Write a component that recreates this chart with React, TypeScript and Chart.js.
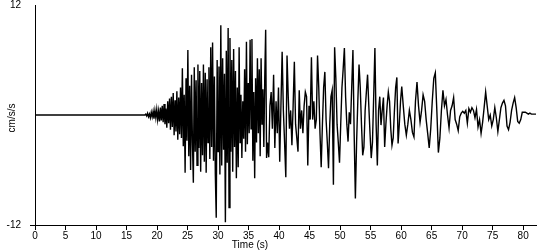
import React, { useEffect, useRef } from "react";
import { Chart, registerables } from "chart.js";

Chart.register(...registerables);

// ---- data (acceleration in cm/s/s, read from the record) ----
const preEventTime = [0, 17.85];
const preEventAccel = [0, 0];

const burstStart = 18.0;
const burstStep = 0.15;
const burstAccel = [
  0, 0.1, -0.1, 0.2, -0.2, 0.1, -0.3, 0.3, -0.2, 0.4,
  -0.4, 0.5, -0.3, 0.6, -0.5, 0.4, -0.7, 0.8, -0.6, 1.0,
  -0.8, 1.2, -1.0, 0.7, -1.4, 1.5, -0.9, 1.8, -1.6, 2.0,
  -1.3, 2.4, -2.2, 1.6, -1.8, 2.6, -2.7, 1.9, -2.1, 3.0,
  -2.5, 5.1, -3.4, 2.2, -6.3, 4.0, -2.8, 7.1, -4.5, 3.2,
  -6.0, 4.4, -3.0, -7.4, 5.2, -4.0, 3.8, -5.5, 5.5, -3.6,
  4.8, -6.2, 3.5, -4.4, 5.5, -5.1, 4.6, -6.3, 3.9, -3.0,
  5.2, -4.8, 7.4, -3.5, 7.9, -5.0, 4.2, -6.5, -11.2, 6.0,
  -4.0, 5.3, -6.5, 9.8, -5.5, 6.2, -3.8, 4.5, -11.7, 7.0,
  -5.2, 9.5, -10.1, 8.4, -4.0, 6.0, -6.2, 7.2, -3.5, 4.8,
  -6.9, 3.0, -5.7, 7.4, -3.0, 2.2, -4.7, 1.5, -2.6, 5.0,
  -4.0, 8.0, -3.2, 3.5, -2.0, 8.2, -1.5, 8.3, -5.0, 2.5,
  -6.9, 4.0, -3.0, 6.2, -2.0, 5.0, -4.5, 6.2, -1.0, 2.8,
  -3.5, 4.0, 9.3, -4.7,
];

const strongStart = 38.1;
const strongStep = 0.2;
const strongAccel = [
  -3.0, -4.6, 1.0, 2.5, -1.5, 4.4, -3.6, 1.5, -2.0, 3.0,
  -5.1, 1.0, 6.9, 0.5, -3.0, -6.8, 6.5, 2.0, -1.5, 0.5,
  -3.3, 1.0, 5.8, -1.0, -2.5, -4.0, 2.7, -1.5, 0.5, -2.0,
  1.0, 2.5, 2.0, -5.5, 1.0, -0.5, 6.3, -0.5, 1.5, -1.5,
  -0.5, 6.5, 3.0, -2.0, -5.7, -1.0, 3.0, 4.7, -0.5, -3.0,
  -5.8, -1.0, 2.0, 2.7, -7.6, 7.4, 4.0, -1.0, -3.0, -5.2,
  -1.0, 3.0, 5.0, 7.3, 2.0, -1.0, -2.9, 0.3, -1.0, 3.0,
  7.1, -2.0, -9.1, -3.0, 1.5, 5.5, 3.0, -1.0, -4.4, -3.5,
  0.5, 2.5, 4.4, 1.0, -2.0, -4.7, -3.0, 2.0, 7.3, -1.0,
  -5.5, 0.5, 2.0, -1.1, 0.5, 1.9, -3.5, -1.0, 1.0, 2.5,
  1.5, -1.5, -3.3, -2.5, 0.5, 3.0, 4.1, -3.1, -1.0, 1.5,
];

const codaStart = 60.1;
const codaStep = 0.25;
const codaAccel = [
  3.1, 1.0, -1.0, -2.2, -1.0, 0.5, -0.5, -1.9, -2.4, 1.5,
  3.6, 1.0, -0.8, 0.5, 2.2, 1.5, -0.5, -2.0, -3.6, -1.5,
  1.5, 4.0, 4.6, 0.5, -4.1, -2.5, 0.5, 2.7, 1.0, 1.7,
  0.0, -1.4, 0.5, 1.0, 1.9, -0.5, -1.0, -1.7, -0.2, 0.2,
  0.4, 0.2, 0.5, -0.9, 0.7, 0.3, 0.8, 0.5, -0.3, 0.6,
  -1.3, -0.5, -2.0, -0.8, 0.8, 2.5, 1.0, -0.5, 0.0, -1.2,
  -0.5, 0.8, -0.3, -1.8, -0.5, 0.8, 1.3, 1.6, 1.0, -1.2,
  -1.6, -0.8, 0.5, 1.3, 1.9, 0.8, -0.7, -0.9, -0.5, 0.3,
  0.3, 0.3, 0.2, 0.1, 0.2, 0.1, 0.1, 0.1, 0.1,
];

const xMin = 0;
const xMax = 82.1;
const xTickStep = 5;
const yTickValues = [-12, 12];
const xTitle = "Time (s)";
const yTitle = "cm/s/s";

function buildSeries() {
  const pts: { x: number; y: number }[] = [];
  preEventTime.forEach((t, i) => pts.push({ x: t, y: preEventAccel[i] }));
  const add = (start: number, step: number, vals: number[]) =>
    vals.forEach((v, i) => pts.push({ x: +(start + i * step).toFixed(3), y: v }));
  add(burstStart, burstStep, burstAccel);
  add(strongStart, strongStep, strongAccel);
  add(codaStart, codaStep, codaAccel);
  return pts;
}

const FONT_FAMILY = '"Liberation Sans", Arial, sans-serif';

const titlesPlugin = {
  id: "axisTitles",
  afterDraw(chart: any) {
    const ctx = chart.ctx;
    ctx.save();
    ctx.fillStyle = "#000";
    ctx.font = `10px ${FONT_FAMILY}`;
    ctx.textAlign = "center";
    ctx.textBaseline = "middle";
    ctx.fillText(xTitle, 250, 245);
    ctx.translate(12.5, 118);
    ctx.rotate(-Math.PI / 2);
    ctx.fillText(yTitle, 0, 0);
    ctx.restore();
  },
};

export default function App() {
  const ref = useRef<HTMLCanvasElement | null>(null);

  useEffect(() => {
    document.body.style.margin = "0";
    if (!ref.current) return;
    const chart = new Chart(ref.current, {
      type: "line",
      data: {
        datasets: [
          {
            data: buildSeries(),
            borderColor: "#000",
            borderWidth: 1.4,
            pointRadius: 0,
            tension: 0,
            fill: false,
          },
        ],
      },
      options: {
        responsive: false,
        animation: false,
        devicePixelRatio: 1,
        parsing: false,
        layout: { padding: { top: 5, right: 14, left: 0, bottom: 0 } },
        plugins: {
          legend: { display: false },
          tooltip: { enabled: false },
        },
        scales: {
          x: {
            type: "linear",
            min: xMin,
            max: xMax,
            ticks: {
              stepSize: xTickStep,
              includeBounds: false,
              autoSkip: false,
              maxRotation: 0,
              color: "#000",
              padding: 0,
              font: { size: 10, family: FONT_FAMILY },
            },
            grid: {
              display: true,
              drawOnChartArea: false,
              drawTicks: true,
              tickLength: 5,
              tickColor: "#000",
            },
            border: { display: true, color: "#000", width: 1 },
            afterFit: (s: any) => {
              s.height = 25;
            },
          },
          y: {
            type: "linear",
            min: -12,
            max: 12,
            afterBuildTicks: (s: any) => {
              s.ticks = yTickValues.map((v) => ({ value: v }));
            },
            ticks: {
              color: "#000",
              padding: 9,
              font: { size: 10, family: FONT_FAMILY },
            },
            grid: {
              display: true,
              drawOnChartArea: false,
              drawTicks: true,
              tickLength: 5,
              tickColor: (c: any) => (c.tick && c.tick.value === 12 ? "rgba(0,0,0,0)" : "#000"),
            },
            border: { display: true, color: "#000", width: 1 },
            afterFit: (s: any) => {
              s.width = 35;
              s.paddingTop = 0;
              s.paddingBottom = 0;
            },
          },
        },
      },
      plugins: [titlesPlugin],
    });
    return () => chart.destroy();
  }, []);

  return <canvas ref={ref} width={550} height={250} style={{ display: "block" }} />;
}
